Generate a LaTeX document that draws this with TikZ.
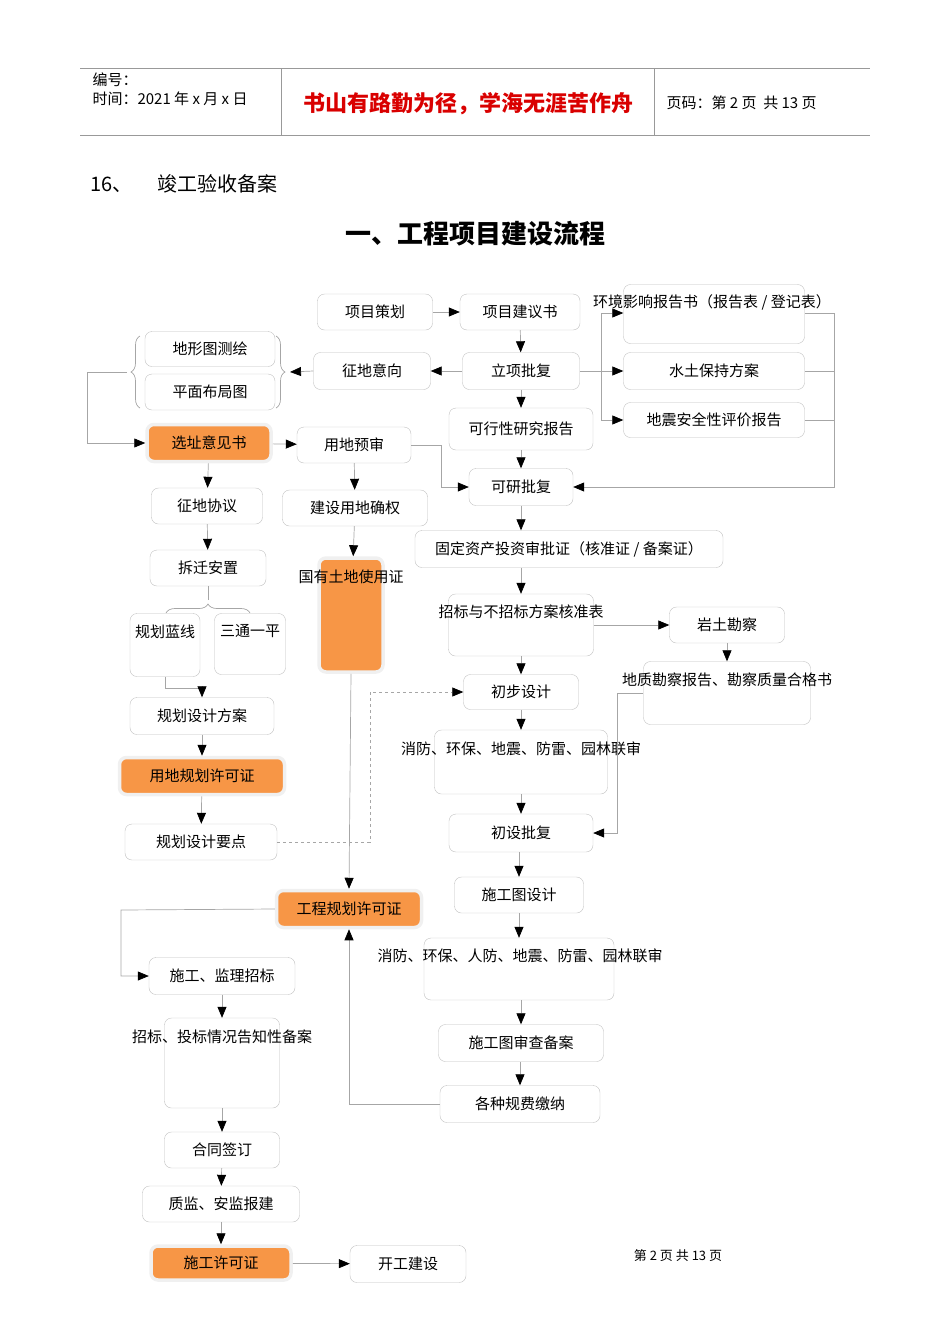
\documentclass[tikz,border=0pt]{standalone}
\usepackage{fontspec}
\setmainfont{Noto Sans CJK SC}
\usetikzlibrary{arrows.meta,decorations.pathreplacing}
\begin{document}
\begin{tikzpicture}[x=1pt,y=-1pt,
  box/.style={draw=gray!50,rounded corners=7pt,font=\fontsize{15}{15}\selectfont,inner sep=0pt},
  lab/.style={font=\fontsize{15}{15}\selectfont,inner sep=0pt},
  ln/.style={draw=gray!70,line width=0.7pt},
  ar/.style={ln,-{Triangle[length=11pt,width=9pt,color=black]}},
  brc/.style={ln,decorate,decoration={brace,amplitude=9pt}}]
\useasboundingbox (0,0) rectangle (950,1344);
\definecolor{org}{HTML}{F79646}
\tikzset{obox/.style={box,fill=org,draw=gray!12,line width=3.5pt}}
% header
\draw[gray!80] (80,68) -- (870,68) (80,135) -- (870,135) (281,68) -- (281,135) (654,68) -- (654,135);
\node[anchor=west,font=\fontsize{15}{15}\selectfont] (h1) at (89,80) {编号：};
\node[anchor=west,font=\fontsize{15}{15}\selectfont] (h2) at (89,99) {时间：2021 年 x 月 x 日};
\node[font=\fontsize{22}{22}\selectfont\bfseries,text=red!85!black] (h3) at (468,104) {书山有路勤为径，学海无涯苦作舟};
\node[anchor=west,font=\fontsize{15}{15}\selectfont] (h4) at (663,103) {页码：第 2 页\ \ 共 13 页};
\node[anchor=west,font=\fontsize{20}{20}\selectfont] (s16) at (87,184) {16、\quad\ 竣工验收备案};
\node[font=\fontsize{26}{26}\selectfont\bfseries] (title) at (475,234) {一、工程项目建设流程};
% boxes
\node[box,minimum width=115,minimum height=36] (xmch) at (375,312) {项目策划};
\node[box,minimum width=120,minimum height=36] (xmjy) at (520,312) {项目建议书};
\node[box,minimum width=181,minimum height=59] (hj) at (714,314) {};
\node[lab] (hjl) at (712,302) {环境影响报告书（报告表 / 登记表）};
\node[box,minimum width=130,minimum height=35] (dxt) at (210,349) {地形图测绘};
\node[box,minimum width=130,minimum height=36] (pmbj) at (210,392) {平面布局图};
\node[box,minimum width=117,minimum height=37] (zdyx) at (372,371) {征地意向};
\node[box,minimum width=117,minimum height=37] (lxpf) at (521,371) {立项批复};
\node[box,minimum width=181,minimum height=37] (stbc) at (714,371) {水土保持方案};
\node[box,minimum width=144,minimum height=42] (kxx) at (521,429) {可行性研究报告};
\node[box,minimum width=181,minimum height=35] (dz) at (714,420) {地震安全性评价报告};
\node[obox,minimum width=124,minimum height=37] (xzyj) at (209,443) {选址意见书};
\node[box,minimum width=114,minimum height=36] (ydys) at (354,445) {用地预审};
\node[box,minimum width=104,minimum height=37] (kypf) at (521,487) {可研批复};
\node[box,minimum width=111,minimum height=36] (zdxy) at (207,506) {征地协议};
\node[box,minimum width=145,minimum height=36] (jsyd) at (355,508) {建设用地确权};
\node[box,minimum width=308,minimum height=37] (gdzc) at (569,549) {固定资产投资审批证（核准证 / 备案证）};
\node[box,minimum width=116,minimum height=36] (cqaz) at (208,568) {拆迁安置};
\node[obox,minimum width=64,minimum height=114] (gytd) at (351,615) {};
\node[lab] (gytdl) at (351,577) {国有土地使用证};
\node[box,minimum width=145,minimum height=62] (zb) at (521,625) {};
\node[lab] (zbl) at (521,612) {招标与不招标方案核准表};
\node[box,minimum width=115,minimum height=36] (ytkc) at (727,625) {岩土勘察};
\node[box,minimum width=70,minimum height=63] (ghlx) at (165,645) {};
\node[lab] (ghlxl) at (165,632) {规划蓝线};
\node[box,minimum width=71,minimum height=61] (stpp) at (250,644) {};
\node[lab] (stppl) at (250,631) {三通一平};
\node[box,minimum width=115,minimum height=35] (cbsj) at (521,692) {初步设计};
\node[box,minimum width=167,minimum height=63] (dzkc) at (727,693) {};
\node[lab] (dzkcl) at (727,680) {地质勘察报告、勘察质量合格书};
\node[box,minimum width=144,minimum height=37] (ghfa) at (202,716) {规划设计方案};
\node[box,minimum width=173,minimum height=64] (xf1) at (521,762) {};
\node[lab] (xf1l) at (521,749) {消防、环保、地震、防雷、园林联审};
\node[obox,minimum width=165,minimum height=37] (ydgh) at (202,776) {用地规划许可证};
\node[box,minimum width=152,minimum height=36] (ghyd) at (201,842) {规划设计要点};
\node[box,minimum width=144,minimum height=38] (cspf) at (521,833) {初设批复};
\node[box,minimum width=129,minimum height=36] (sgt) at (519,895) {施工图设计};
\node[obox,minimum width=145,minimum height=37] (gcgh) at (349,909) {工程规划许可证};
\node[box,minimum width=190,minimum height=62] (xf2) at (519,969) {};
\node[lab] (xf2l) at (520,956) {消防、环保、人防、地震、防雷、园林联审};
\node[box,minimum width=146,minimum height=37] (sgjl) at (222,976) {施工、监理招标};
\node[box,minimum width=115,minimum height=90] (zbtb) at (222,1063) {};
\node[lab] (zbtbl) at (222,1037) {招标、投标情况告知性备案};
\node[box,minimum width=165,minimum height=37] (sgsc) at (521,1043) {施工图审查备案};
\node[box,minimum width=160,minimum height=37] (gzfy) at (520,1104) {各种规费缴纳};
\node[box,minimum width=115,minimum height=36] (htqd) at (222,1150) {合同签订};
\node[box,minimum width=157,minimum height=36] (zj) at (221,1204) {质监、安监报建};
\node[obox,minimum width=140,minimum height=34] (sgxk) at (221,1263) {施工许可证};
\node[box,minimum width=116,minimum height=37] (kgjs) at (408,1264) {开工建设};
\node[font=\fontsize{13}{13}\selectfont] (foot) at (678,1256) {第 2 页 共 13 页};
% braces
\draw[brc] (276,336) -- (276,408);
\draw[brc] (140,408) -- (140,336);
\draw[brc] (166,613) -- (250,613);
\coordinate (bl) at (127,372);
\coordinate (br) at (290,372);
\coordinate (bt) at (208,600);
% connectors
\draw[ar] (xmch) -- (xmjy);
\draw[ar] (xmjy) -- (lxpf);
\draw[ar] (lxpf) -- (zdyx);
\draw[ar] (zdyx.west) -- (br);
\draw[ln] (bl) -- (87,372) -- (87,443);
\draw[ar] (87,443) -- (xzyj.west);
\draw[ar] (lxpf) -- (stbc);
\draw[ar] (601,371) |- (hj.west |- 0,313);
\draw[ar] (601,371) |- (dz.west);
\draw[ln] (hj.east |- 0,313) -- (834,313) (stbc.east) -- (834,371) (dz.east) -- (834,420);
\draw[ar] (834,313) |- (kypf.east);
\draw[ar] (lxpf) -- (kxx);
\draw[ar] (kxx) -- (kypf);
\draw[ar] (ydys.east) -- (441,445) |- (kypf.west);
\draw[ar] (kypf.south) -- (kypf.south |- gdzc.north);
\draw[ar] (gdzc.south -| kypf) -- (zb.north);
\draw[ar] (zb) -- (cbsj);
\draw[ar] (cbsj) -- (xf1);
\draw[ar] (xf1) -- (cspf);
\draw[ar] (cspf.south -| sgt) -- (sgt.north);
\draw[ar] (sgt) -- (xf2);
\draw[ar] (xf2.south -| sgsc) -- (sgsc.north);
\draw[ar] (sgsc.south -| gzfy) -- (gzfy.north);
\draw[ar] (xzyj) -- (ydys);
\draw[ar] (ydys) -- (jsyd);
\draw[ar] (jsyd) -- (gytd);
\draw[ar] (xzyj) -- (zdxy);
\draw[ar] (zdxy) -- (cqaz);
\draw[ln] (cqaz.south) -- (bt);
\draw[ln] (ghlx.south) -- (165,688) -- (202,688);
\draw[ar] (202,688) -- (ghfa.north);
\draw[ar] (ghfa) -- (ydgh);
\draw[ar] (ydgh) -- (ghyd);
\draw[ar,dashed] (ghyd.east) -- (370,842) -- (370,692) -- (cbsj.west);
\draw[ar] (gytd.south) -- (gcgh.north);
\draw[ar] (zb.east |- 0,625) -- (ytkc);
\draw[ar] (ytkc) -- (dzkc);
\draw[ar] (dzkc.west) -- (617,693) |- (cspf.east);
\draw[ar] (gcgh.west) -- (121,910) |- (sgjl.west);
\draw[ar] (sgjl) -- (zbtb);
\draw[ar] (zbtb) -- (htqd);
\draw[ar] (htqd) -- (zj);
\draw[ar] (zj) -- (sgxk);
\draw[ar] (sgxk) -- (kgjs);
\draw[ar] (gzfy.west) -| (gcgh.south);
\end{tikzpicture}
\end{document}
